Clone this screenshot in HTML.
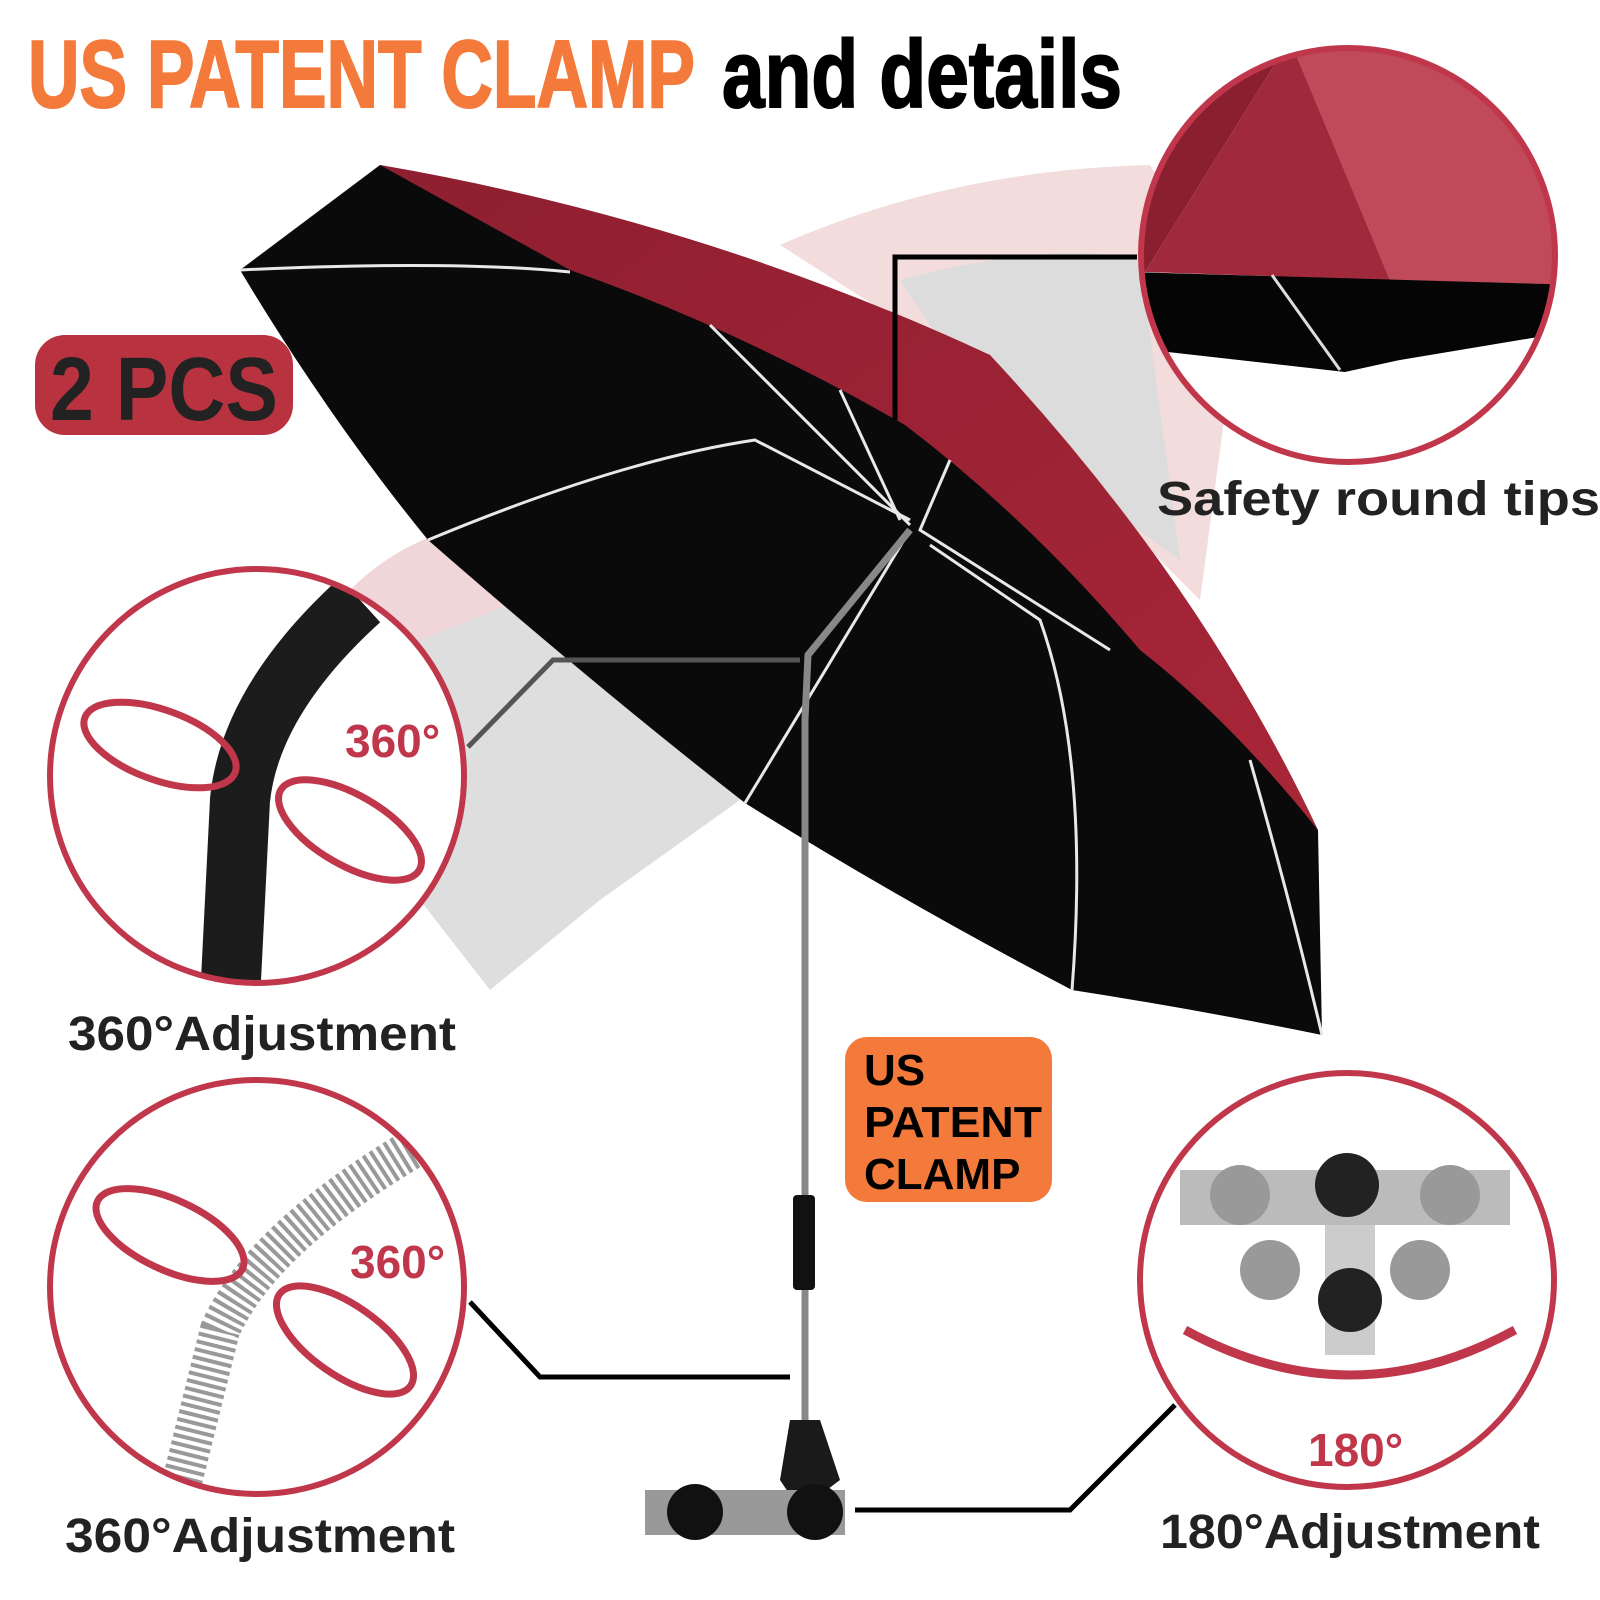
<!DOCTYPE html>
<html><head><meta charset="utf-8"><style>
html,body{margin:0;padding:0;background:#fff;}
svg{display:block}
text{font-family:"Liberation Sans",sans-serif;font-weight:bold}
</style></head><body>
<svg width="1600" height="1600" viewBox="0 0 1600 1600" xmlns="http://www.w3.org/2000/svg">
<defs>
<clipPath id="c1"><circle cx="1348" cy="255" r="207"/></clipPath>
<clipPath id="c2"><circle cx="257" cy="776" r="207"/></clipPath>
<clipPath id="c3"><circle cx="257" cy="1287" r="207"/></clipPath>
<clipPath id="c4"><circle cx="1347" cy="1280" r="207"/></clipPath>
<linearGradient id="rg" x1="0" y1="0" x2="1" y2="1"><stop offset="0" stop-color="#8e1f30"/><stop offset="1" stop-color="#a82638"/></linearGradient>
</defs>
<path d="M780 245 Q950 170 1150 165 L1240 300 L1200 600 L960 360 Z" fill="#f2dcdc"/>
<path d="M900 280 Q1050 240 1140 260 L1180 560 L1000 430 Z" fill="#dcdcdc"/>
<path d="M350 590 Q420 530 520 520 L740 800 L600 900 L490 990 L420 900 Z" fill="#dedede"/>
<path d="M350 590 Q400 540 470 525 L520 600 L420 640 Z" fill="#f0d6d8"/>
<path d="M380 165 L240 270 Q330 420 428 540 Q600 690 745 803 Q900 900 1072 990 Q1200 1010 1322 1035 L1318 830 Q1150 600 990 355 Q700 250 380 165 Z" fill="#0a0a0a"/>
<path d="M380 165 Q700 220 990 355 Q1200 580 1318 830 Q1230 720 1140 650 Q1030 520 905 425 Q740 330 570 270 Q470 215 380 165 Z" fill="url(#rg)"/>
<g stroke="#e8e8e8" stroke-width="3" fill="none">
<path d="M240 270 Q450 260 570 272"/>
<path d="M428 540 Q620 460 755 440 L910 520"/>
<path d="M745 803 Q820 680 910 530"/>
<path d="M1072 990 Q1090 760 1040 620 L930 545"/>
<path d="M1322 1035 Q1290 900 1250 760"/>
<path d="M710 325 L910 525"/>
<path d="M840 390 L900 520"/>
<path d="M950 460 L920 530 L1110 650"/>
</g>
<path d="M910 530 L808 655 L805 720 L805 1420" stroke="#888" stroke-width="7" fill="none"/>
<rect x="793" y="1195" width="22" height="95" rx="4" fill="#111"/>
<path d="M790 1420 L820 1420 L840 1480 L800 1510 L780 1480 Z" fill="#1a1a1a"/>
<rect x="645" y="1490" width="200" height="45" fill="#999"/>
<circle cx="695" cy="1512" r="28" fill="#111"/><circle cx="815" cy="1512" r="28" fill="#111"/>
<g stroke="#000" stroke-width="5" fill="none">
<path d="M895 420 V257 H1137"/>
<path d="M468 747 L553 660 H800" stroke="#555"/>
<path d="M470 1302 L540 1377 H790"/>
<path d="M855 1510 H1070 L1175 1405"/>
</g>
<g clip-path="url(#c1)"><rect x="1100" y="40" width="500" height="450" fill="#fff"/>
<path d="M1130 40 H1290 L1145 272 L1130 272 Z" fill="#8a1f2f"/>
<path d="M1290 40 H1580 V285 L1390 280 Z" fill="#c04a5a"/>
<path d="M1145 272 L1290 40 L1390 280 Z" fill="#a02a3b"/>
<path d="M1130 272 L1580 285 L1580 330 L1400 360 L1345 372 L1150 350 Z" fill="#050505"/>
<path d="M1272 275 L1340 370" stroke="#ddd" stroke-width="3"/></g>
<circle cx="1348" cy="255" r="207" fill="none" stroke="#c0374b" stroke-width="6"/>
<g clip-path="url(#c2)"><rect x="40" y="560" width="440" height="440" fill="#fff"/>
<path d="M360 600 Q250 700 240 800 L230 1000" stroke="#1c1c1c" stroke-width="60" fill="none"/>
<g fill="none" stroke="#c0374b" stroke-width="7"><ellipse cx="160" cy="745" rx="80" ry="35" transform="rotate(20 160 745)"/><ellipse cx="350" cy="830" rx="80" ry="35" transform="rotate(30 350 830)"/></g></g>
<circle cx="257" cy="776" r="207" fill="none" stroke="#c0374b" stroke-width="6"/>
<text x="345" y="757" font-size="46" fill="#c0374b">360°</text>
<g clip-path="url(#c3)"><rect x="40" y="1070" width="440" height="440" fill="#fff"/>
<path d="M410 1150 Q260 1240 220 1330 L180 1490" stroke="#999" stroke-width="40" stroke-dasharray="4 4" fill="none"/>
<g fill="none" stroke="#c0374b" stroke-width="7"><ellipse cx="170" cy="1235" rx="80" ry="35" transform="rotate(25 170 1235)"/><ellipse cx="345" cy="1340" rx="80" ry="35" transform="rotate(35 345 1340)"/></g></g>
<circle cx="257" cy="1287" r="207" fill="none" stroke="#c0374b" stroke-width="6"/>
<text x="350" y="1278" font-size="46" fill="#c0374b">360°</text>
<g clip-path="url(#c4)"><rect x="1130" y="1070" width="440" height="440" fill="#fff"/>
<rect x="1180" y="1170" width="330" height="55" fill="#bbb"/>
<rect x="1325" y="1225" width="50" height="130" fill="#ccc"/>
<circle cx="1240" cy="1195" r="30" fill="#999"/><circle cx="1450" cy="1195" r="30" fill="#999"/>
<circle cx="1270" cy="1270" r="30" fill="#999"/><circle cx="1420" cy="1270" r="30" fill="#999"/>
<circle cx="1347" cy="1185" r="32" fill="#222"/><circle cx="1350" cy="1300" r="32" fill="#222"/>
<path d="M1185 1330 Q1350 1420 1515 1330" stroke="#c0374b" stroke-width="9" fill="none"/></g>
<circle cx="1347" cy="1280" r="207" fill="none" stroke="#c0374b" stroke-width="6"/>
<text x="1308" y="1466" font-size="46" fill="#c0374b">180°</text>
<text x="28" y="107" font-size="96" fill="#f47a3c" stroke="#f47a3c" stroke-width="2" textLength="667" lengthAdjust="spacingAndGlyphs">US PATENT CLAMP</text>
<text x="722" y="107" font-size="96" fill="#000" stroke="#000" stroke-width="2" textLength="400" lengthAdjust="spacingAndGlyphs">and details</text>
<rect x="35" y="335" width="258" height="100" rx="30" fill="#b8323f"/>
<text x="50" y="420" font-size="90" fill="#222" textLength="228" lengthAdjust="spacingAndGlyphs">2 PCS</text>
<rect x="845" y="1037" width="207" height="165" rx="22" fill="#f47a3c"/>
<g font-size="44" fill="#000"><text x="864" y="1085">US</text><text x="864" y="1137" textLength="178" lengthAdjust="spacingAndGlyphs">PATENT</text><text x="864" y="1189">CLAMP</text></g>
<g font-size="48" fill="#222">
<text x="1157" y="515" textLength="443" lengthAdjust="spacingAndGlyphs">Safety round tips</text>
<text x="68" y="1050" textLength="388" lengthAdjust="spacingAndGlyphs">360°Adjustment</text>
<text x="65" y="1552" textLength="390" lengthAdjust="spacingAndGlyphs">360°Adjustment</text>
<text x="1160" y="1548" textLength="380" lengthAdjust="spacingAndGlyphs">180°Adjustment</text>
</g>
</svg>
</body></html>
